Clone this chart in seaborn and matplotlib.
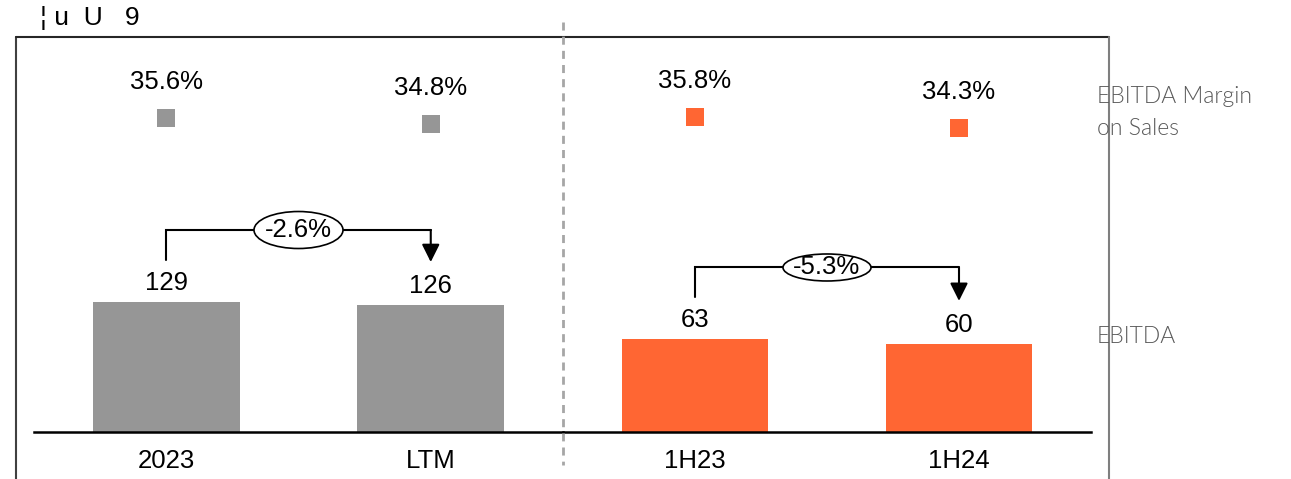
import matplotlib
matplotlib.use('Agg')
import matplotlib.pyplot as plt
import seaborn as sns
import pandas as pd
import numpy as np
from matplotlib.patches import Ellipse
from matplotlib.lines import Line2D

# ---- data ----
periods_a = ['2023', 'LTM']
periods_b = ['1H23', '1H24']
ebitda_a = [129, 126]
ebitda_b = [63, 60]
margin_a = [35.6, 34.8]
margin_b = [35.8, 34.3]
change_a = '-2.6%'
change_b = '-5.3%'
title_text = '¦ u  U   9'
label_margin_1 = 'EBITDA Margin'
label_margin_2 = 'on Sales'
label_ebitda = 'EBITDA'

GREY = '#969696'
ORANGE = '#FF6633'

sns.set_theme(style='white')
plt.rcParams['font.family'] = ['Liberation Sans', 'DejaVu Sans']

W, H = 1291, 479
fig = plt.figure(figsize=(W / 100, H / 100), dpi=100)


def fx(px):
    return px / W


def fy(py):
    return 1 - py / H


base_y = 432
top_y = 37
FS = 18.5
MARGIN_LIM = (-6.83, 46.55)

panels = [
    dict(x0=34, x1=563, periods=periods_a, ebitda=ebitda_a, margin=margin_a,
         color=GREY, ytop=392, change=change_a, ell=(89, 37)),
    dict(x0=563, x1=1091, periods=periods_b, ebitda=ebitda_b, margin=margin_b,
         color=ORANGE, ytop=269, change=change_b, ell=(88, 27)),
]

for p in panels:
    rect = [fx(p['x0']), fy(base_y), fx(p['x1'] - p['x0']), (base_y - top_y) / H]
    ax = fig.add_axes(rect)
    df = pd.DataFrame({'period': p['periods'], 'ebitda': p['ebitda'],
                       'margin': p['margin'], 'pos': np.arange(len(p['periods']))})
    sns.barplot(data=df, x='period', y='ebitda', color=p['color'], saturation=1,
                width=0.556, linewidth=0, ax=ax)
    ax.set_xlim(-0.5, 1.5)
    ax.set_ylim(0, p['ytop'])
    ax.set_xlabel('')
    ax.set_ylabel('')
    ax.set_yticks([])
    for s in ['left', 'right', 'top']:
        ax.spines[s].set_visible(False)
    ax.spines['bottom'].set_color('black')
    ax.spines['bottom'].set_linewidth(1.8)
    ax.tick_params(axis='x', length=0, pad=12, labelsize=FS, labelcolor='black')
    ax.set_facecolor('none')

    ppu = (base_y - top_y) / p['ytop']
    xpu = (p['x1'] - p['x0']) / 2.0
    for i, v in enumerate(p['ebitda']):
        ax.annotate(f'{v}', (i, v), xytext=(0, 19), textcoords='offset pixels',
                    ha='center', va='center', fontsize=FS, color='black')

    # bracket with change
    v0, v1 = p['ebitda']
    yh = v0 + 72 / ppu
    ax.plot([0, 0, 1], [v0 + 42 / ppu, yh, yh], color='black', lw=1.5,
            solid_joinstyle='miter', clip_on=False)
    ax.annotate('', xy=(1, v1 + 43 / ppu), xytext=(1, yh),
                arrowprops=dict(arrowstyle='-|>,head_length=1.08,head_width=0.54',
                                color='black', lw=1.5, shrinkA=0, shrinkB=0,
                                mutation_scale=10))
    ew, eh = p['ell']
    ax.add_patch(Ellipse((0.5, yh), ew / xpu, eh / ppu, facecolor='white',
                         edgecolor='black', lw=1.2, zorder=5, clip_on=False))
    ax.text(0.5, yh, p['change'], ha='center', va='center', fontsize=FS,
            color='black', zorder=6)

    # margin squares
    axm = fig.add_axes(rect)
    axm.set_facecolor('none')
    sns.scatterplot(data=df, x='pos', y='margin', marker='s', s=150,
                    color=p['color'], linewidth=0, legend=False, ax=axm)
    axm.set_xlim(-0.5, 1.5)
    axm.set_ylim(*MARGIN_LIM)
    axm.axis('off')
    for i, m in enumerate(p['margin']):
        axm.annotate(f'{m:.1f}%', (i, m), xytext=(0, 36), textcoords='offset pixels',
                     ha='center', va='center', fontsize=FS, color='black')

# frame lines and divider
fig.add_artist(Line2D([fx(16), fx(16)], [fy(37), 0], color='#404040', lw=1.5))
fig.add_artist(Line2D([fx(16), fx(1109)], [fy(37), fy(37)], color='#262626', lw=1.5))
fig.add_artist(Line2D([fx(1109), fx(1109)], [fy(37), 0], color='#7F7F7F', lw=1.5))
fig.add_artist(Line2D([fx(563), fx(563)], [fy(22), fy(465)], color='#A6A6A6', lw=2,
                      linestyle=(0, (2.9, 2.2))))

# texts
fig.text(fx(40), fy(18), title_text, ha='left', va='center', fontsize=19, color='black')
side = dict(ha='left', va='baseline', fontsize=16.5, color='#595959',
            family=['Lato', 'DejaVu Sans'], fontweight=300)
fig.text(fx(1097), fy(103), label_margin_1, **side)
fig.text(fx(1097), fy(135), label_margin_2, **side)
fig.text(fx(1097), fy(343), label_ebitda, **side)

fig.savefig('out.png', dpi=100)
